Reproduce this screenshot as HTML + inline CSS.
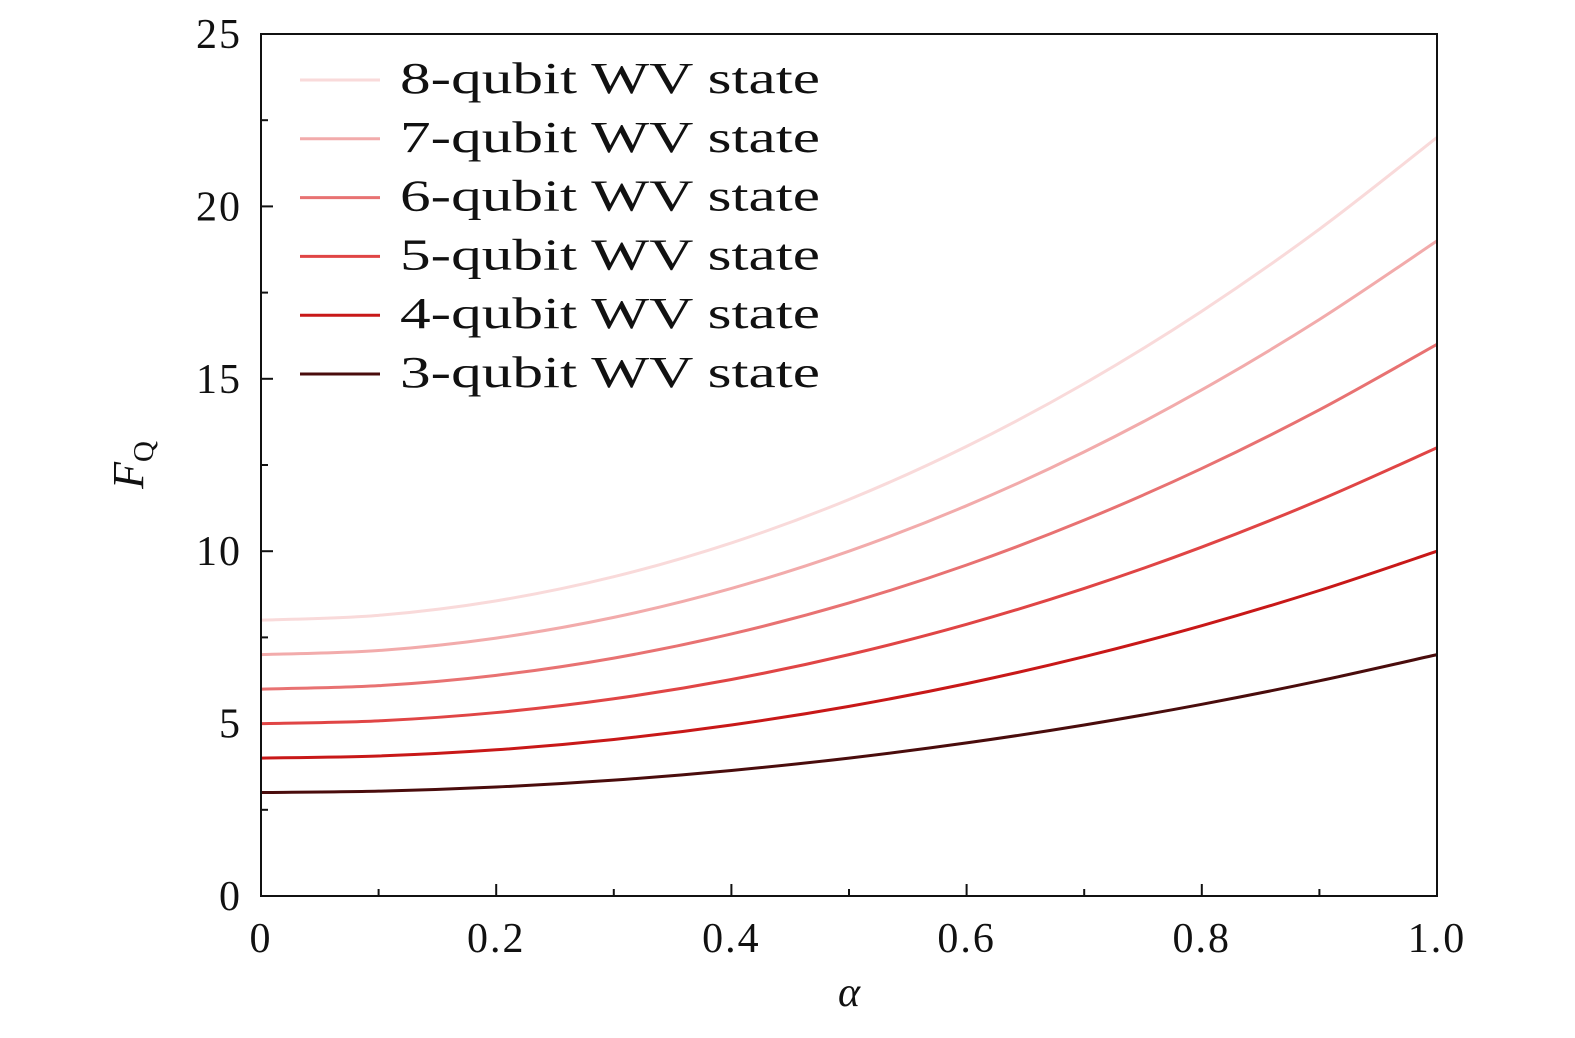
<!DOCTYPE html>
<html><head><meta charset="utf-8"><style>
body{margin:0;background:#fff}
svg text{font-family:"Liberation Serif",serif;fill:#111}
</style></head><body>
<svg id="chart" width="1575" height="1033" viewBox="0 0 1575 1033" xmlns="http://www.w3.org/2000/svg">
<g id="grid"></g>
<g id="lines"></g>
<g id="legend"></g>
<rect x="261" y="34" width="1176" height="862" fill="none" stroke="#111" stroke-width="2"/>
<text x="849" y="1006" font-size="42" font-style="italic" text-anchor="middle">α</text>
<text transform="translate(143,465) rotate(-90)" font-size="44" font-style="italic" text-anchor="middle">F<tspan font-size="29" font-style="normal" dy="10">Q</tspan></text>
</svg>
<script>
const alphas=[0,0.1,0.2,0.3,0.4,0.5,0.6,0.7,0.8,0.9,1.0];
const labels=["8-qubit WV state","7-qubit WV state","6-qubit WV state","5-qubit WV state","4-qubit WV state","3-qubit WV state"];
const colors=["#f9dada","#f2abab","#e87272","#e04545","#c81818","#4a0c0c"];
const s8=[8,8.14,8.56,9.26,10.24,11.5,13.04,14.86,16.96,19.34,22];
const s7=[7,7.12,7.48,8.08,8.92,10,11.32,12.88,14.68,16.72,19];
const s6=[6,6.1,6.4,6.9,7.6,8.5,9.6,10.9,12.4,14.1,16];
const s5=[5,5.08,5.32,5.72,6.28,7,7.88,8.92,10.12,11.48,13];
const s4=[4,4.06,4.24,4.54,4.96,5.5,6.16,6.94,7.84,8.86,10];
const s3=[3,3.04,3.16,3.36,3.64,4.0,4.44,4.96,5.56,6.24,7];
const series=[s8,s7,s6,s5,s4,s3];
const xTicks=[0,0.2,0.4,0.6,0.8,1.0];
const xTickLabels=["0","0.2","0.4","0.6","0.8","1.0"];
const yTicks=[0,5,10,15,20,25];
const NS="http://www.w3.org/2000/svg";
const X=v=>261+v*1176, Y=v=>896-v*862/25;
function mk(t,a,p){const e=document.createElementNS(NS,t);for(const k in a)e.setAttribute(k,a[k]);p.appendChild(e);return e;}
const g=document.getElementById('grid');
for(let i=0;i<=10;i++){const v=i/10;const t=mk('line',{x1:X(v),x2:X(v),y1:896,y2:896-(i%2?7:12),stroke:'#111','stroke-width':2},g);

}
xTicks.forEach((v,i)=>{const t=mk('text',{x:X(v),y:952,'font-size':42,'text-anchor':'middle','letter-spacing':'2'},g);t.textContent=xTickLabels[i];

});
for(let i=0;i<=10;i++){const v=i*2.5;const t=mk('line',{x1:261,x2:261+(i%2?7:12),y1:Y(v),y2:Y(v),stroke:'#111','stroke-width':2},g);

}
yTicks.forEach(v=>{const t=mk('text',{x:242,y:Y(v)+14,'font-size':42,'text-anchor':'end','letter-spacing':'2'},g);t.textContent=String(v);

});
const L=document.getElementById('lines');
series.forEach((s,k)=>{
  let d='';
  for(let i=0;i<alphas.length-1;i++){
    const p0=[X(alphas[Math.max(i-1,0)]),Y(s[Math.max(i-1,0)])],p1=[X(alphas[i]),Y(s[i])],p2=[X(alphas[i+1]),Y(s[i+1])],p3=[X(alphas[Math.min(i+2,alphas.length-1)]),Y(s[Math.min(i+2,alphas.length-1)])];
    if(i===0)d+='M'+p1[0]+','+p1[1];
    const c1=[p1[0]+(p2[0]-p0[0])/6,p1[1]+(p2[1]-p0[1])/6],c2=[p2[0]-(p3[0]-p1[0])/6,p2[1]-(p3[1]-p1[1])/6];
    d+=' C'+c1+' '+c2+' '+p2;
  }
  const p=mk('path',{d:d,fill:'none',stroke:colors[k],'stroke-width':3},L);
  
  
});
const Lg=document.getElementById('legend');
labels.forEach((t,k)=>{const y=80+k*58.8;
  const l=mk('line',{x1:300,x2:380,y1:y,y2:y,stroke:colors[k],'stroke-width':3},Lg);
  
  
  const tx=mk('text',{x:400,y:y+13,'font-size':44,textLength:420,lengthAdjust:'spacingAndGlyphs'},Lg);tx.textContent=t;
  
  
});
</script>
</body></html>
